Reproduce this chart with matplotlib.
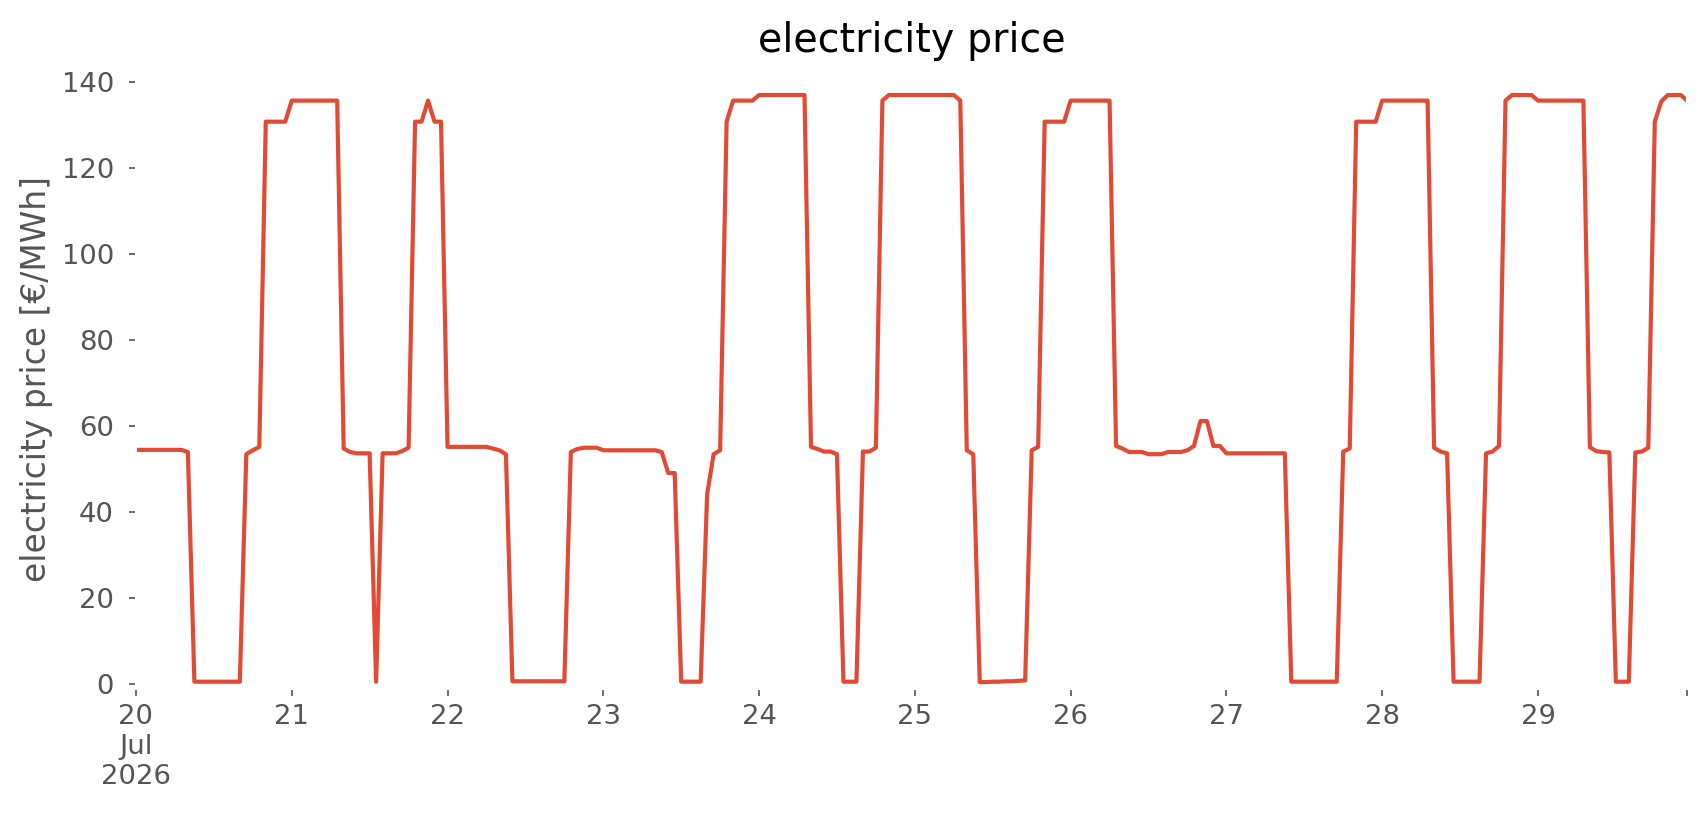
import matplotlib
matplotlib.use("Agg")
import matplotlib.pyplot as plt
import pandas as pd

plt.style.use("ggplot")

# hourly prices in €/MWh, one list per day (20 Jul .. 29 Jul 2026)
JUL_20 = [54.4] * 8 + [53.9] + [0.5] * 8 + [53.4, 54.3, 55.1] + [130.7] * 4
JUL_21 = ([135.6] * 8 + [54.7, 53.9, 53.6, 53.6, 53.6, 0.5, 53.6, 53.6, 53.6, 54.1, 54.9]
          + [130.7, 130.7, 135.6, 130.7, 130.7])
JUL_22 = [55.1] * 7 + [54.7, 54.3, 53.4] + [0.6] * 9 + [53.9, 54.6, 54.9, 54.9, 54.9]
JUL_23 = [54.3] * 9 + [53.9, 49.0, 49.0] + [0.5] * 4 + [44.1, 53.4, 54.3, 130.7] + [135.6] * 4
JUL_24 = [136.9] * 8 + [55.1, 54.6, 54.0, 54.0, 53.4] + [0.5] * 3 + [54.0, 54.0, 54.9, 135.6] + [136.9] * 4
JUL_25 = [136.9] * 7 + [135.6, 54.3, 53.4] + [0.4, 0.4, 0.5, 0.5, 0.6, 0.6, 0.7, 0.8] + [54.3, 55.1] + [130.7] * 4
JUL_26 = ([135.6] * 7 + [55.3, 54.7, 53.9, 53.9, 53.9, 53.4, 53.4, 53.4, 53.9, 53.9, 53.9,
          54.3, 55.3, 61.1, 61.1, 55.3, 55.3])
JUL_27 = [53.6] * 10 + [0.5] * 8 + [54.0, 54.7] + [130.7] * 4
JUL_28 = [135.6] * 8 + [54.9, 54.0, 53.6] + [0.5] * 5 + [53.6, 54.0, 55.3, 135.6] + [136.9] * 4
JUL_29 = ([135.6] * 8 + [55.0, 54.1, 53.9, 53.8] + [0.5] * 3 + [53.8, 54.0, 54.9]
          + [130.7, 135.4, 136.9, 136.9, 136.9, 135.6])

DAYS = [JUL_20, JUL_21, JUL_22, JUL_23, JUL_24, JUL_25, JUL_26, JUL_27, JUL_28, JUL_29]
DAY_LABELS = ["20\nJul\n2026", "21", "22", "23", "24", "25", "26", "27", "28", "29"]

prices = [p for day in DAYS for p in day]
times = pd.date_range("2026-07-20 00:00", periods=len(prices), freq="h")

fig = plt.figure(figsize=(1706 / 150, 815 / 150), dpi=150)
ax = fig.add_axes([0.0797, 0.1546, 0.9093, 0.761])
ax.set_facecolor("white")
ax.grid(False)

ax.plot(times, prices, color="#E24A33", linewidth=2.0)

ax.set_xlim(times[0], times[-1])
ax.set_ylim(-1.2, 143)
ax.set_yticks(range(0, 141, 20))

day_ticks = list(pd.date_range("2026-07-20", periods=10, freq="D")) + [times[-1]]
ax.set_xticks(day_ticks)
ax.set_xticklabels(DAY_LABELS + [""])
ax.tick_params(axis="both", colors="#555555", labelsize=13.2)
ax.tick_params(axis="y", pad=7)

ax.set_ylabel("electricity price [€/MWh]", color="#555555", fontsize=15.8)
ax.set_title("electricity price", fontsize=19, color="black", pad=8)

fig.savefig("out.png", dpi=150, facecolor="white")
